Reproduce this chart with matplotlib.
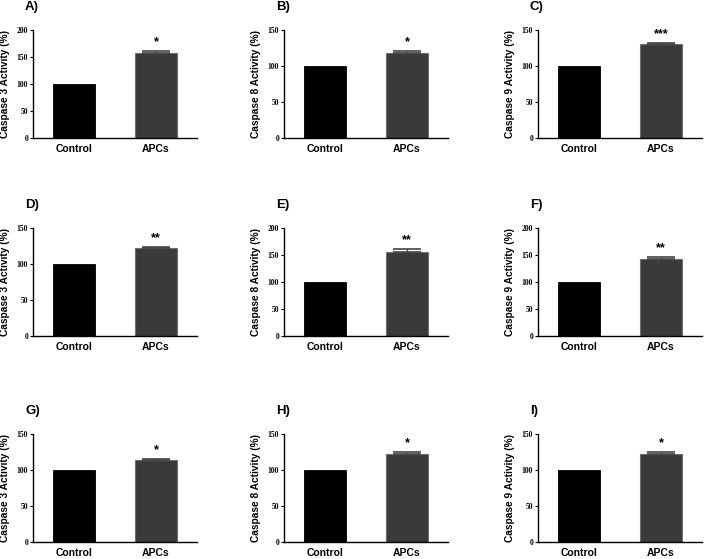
import matplotlib
matplotlib.use("Agg")
import matplotlib.pyplot as plt

W, H = 706, 559
DPI = 100

categories = ["Control", "APCs"]
panel_labels = ["A)", "B)", "C)", "D)", "E)", "F)", "G)", "H)", "I)"]
ylabels = ["Caspase 3 Activity (%)", "Caspase 8 Activity (%)", "Caspase 9 Activity (%)"] * 3
control_values = [100, 100, 100, 100, 100, 100, 100, 100, 100]
apcs_values = [157, 118, 131, 122, 156, 143, 113.5, 122, 122]
apcs_errors = [5, 2.5, 1, 1, 5, 2.5, 2, 3, 3]
ymax_values = [200, 150, 150, 150, 200, 200, 150, 150, 150]
significance = ["*", "*", "***", "**", "**", "**", "*", "*", "*"]

# layout in pixels
col_left = [33, 284, 538]
ax_w = 164
row_top = [30, 228, 434]
ax_h = 108

fig = plt.figure(figsize=(W / DPI, H / DPI), dpi=DPI)
fig.patch.set_facecolor("white")

for i in range(9):
    r, c = divmod(i, 3)
    left = col_left[c] / W
    bottom = 1 - (row_top[r] + ax_h) / H
    ax = fig.add_axes([left, bottom, ax_w / W, ax_h / H])
    ax.bar(0, control_values[i], width=0.52, color="black", edgecolor="black", linewidth=0.6)
    ax.bar(1, apcs_values[i], width=0.52, color="#3a3a3a", edgecolor="#6e6e6e", linewidth=0.8)
    ax.errorbar(1, apcs_values[i], yerr=[[0], [apcs_errors[i]]], fmt="none",
                ecolor="#444444", elinewidth=1.0, capsize=10, capthick=1.2)
    ax.annotate(significance[i], xy=(1, apcs_values[i] + apcs_errors[i]),
                xytext=(0, 2), textcoords="offset points", ha="center", va="bottom",
                fontsize=9, fontweight="bold", family="Liberation Sans")
    ax.set_xlim(-0.5, 1.5)
    ax.set_ylim(0, ymax_values[i])
    step = 50
    ax.set_yticks(list(range(0, ymax_values[i] + 1, step)))
    ax.set_xticks([0, 1])
    ax.set_xticklabels(categories, fontsize=7.5, fontweight="bold", family="Liberation Sans")
    ax.tick_params(axis="x", length=0, pad=4)
    ax.tick_params(axis="y", length=2.5, width=0.8, pad=1, labelsize=5.5)
    for lab in ax.get_yticklabels():
        lab.set_family("Liberation Serif")
        lab.set_fontweight("bold")
    for s in ["top", "right"]:
        ax.spines[s].set_visible(False)
    for s in ["left", "bottom"]:
        ax.spines[s].set_linewidth(1.0)
    ax.set_ylabel(ylabels[i], fontsize=7.3, fontweight="bold", family="Liberation Sans")
    ax.yaxis.set_label_coords(-23 / ax_w, 0.5)
    lx = (col_left[c] - 8) / W
    ly = 1 - (row_top[r] - 23) / H
    fig.text(lx, ly, panel_labels[i], fontsize=9.5, fontweight="bold",
             family="Liberation Sans", ha="left", va="center")

fig.savefig("out.png", dpi=DPI, facecolor="white")
